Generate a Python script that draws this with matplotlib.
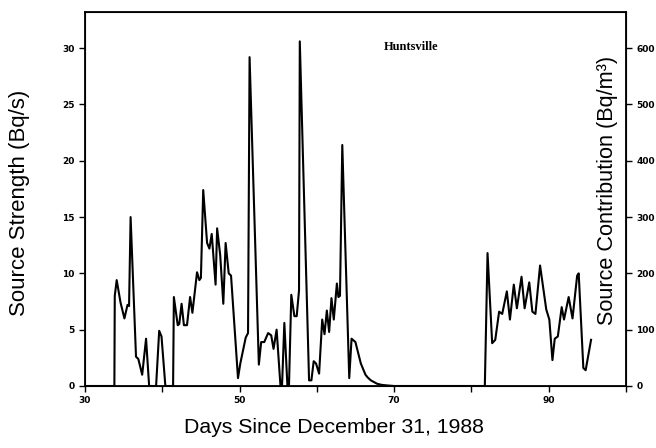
import matplotlib.pyplot as plt

# values
days = [30, 33.8, 33.85, 34.1, 34.6, 35.1, 35.5, 35.7, 35.9, 36.6, 36.9, 37.4, 37.9, 38.3,
        39.2, 39.6, 39.9, 40.4, 41.4, 41.5, 42.0, 42.2, 42.5, 42.8, 43.2, 43.6, 43.9,
        44.5, 44.8, 45.0, 45.3, 45.8, 46.1, 46.4, 46.9, 47.1, 47.5, 47.9, 48.2, 48.6,
        48.9, 49.8, 50.1, 50.8, 51.1, 51.3, 52.5, 52.8, 53.2, 53.7, 54.1, 54.4, 54.8,
        55.3, 55.5, 55.8, 56.2, 56.4, 56.7, 57.1, 57.4, 57.7, 57.8, 59.0, 59.3, 59.6,
        59.9, 60.3, 60.7, 61.0, 61.3, 61.6, 61.9, 62.2, 62.6, 62.8, 63.0, 63.3, 64.2,
        64.5, 65.0, 65.7, 66.3, 66.6, 67.0, 67.8, 68.4, 69.1, 70.0, 81.75, 82.1, 82.7,
        83.1, 83.6, 84.0, 84.6, 85.0, 85.5, 85.9, 86.5, 86.9, 87.5, 87.9, 88.3, 88.9,
        89.7, 90.1, 90.5, 90.8, 91.2, 91.7, 92.0, 92.6, 93.1, 93.7, 93.9, 94.5, 94.8,
        95.5]
strength = [0, 0, 8.0, 9.4, 7.4, 6.0, 7.2, 7.1, 15.0, 2.6, 2.4, 1.0, 4.2, 0,
            0, 4.9, 4.4, 0, 0, 7.9, 5.4, 5.5, 7.3, 5.4, 5.4, 7.9, 6.5,
            10.1, 9.4, 9.6, 17.4, 12.7, 12.2, 13.5, 9.0, 14.0, 11.6, 7.3, 12.7, 10.0,
            9.8, 0.7, 2.0, 4.3, 4.7, 29.2, 1.9, 3.9, 3.9, 4.7, 4.5, 3.3, 5.0,
            0, 0, 5.6, 0, 0, 8.1, 6.2, 6.2, 8.5, 30.6, 0.5, 0.5, 2.2,
            2.0, 1.1, 5.9, 4.6, 6.7, 4.8, 7.8, 5.9, 9.1, 7.9, 8.0, 21.4, 0.7,
            4.2, 3.9, 2.0, 1.0, 0.75, 0.5, 0.2, 0.1, 0.05, 0, 0, 11.8, 3.8,
            4.1, 6.6, 6.4, 8.4, 5.9, 9.0, 6.9, 9.7, 6.9, 9.2, 6.6, 6.4, 10.7,
            6.8, 5.9, 2.3, 4.2, 4.4, 7.0, 5.9, 7.9, 6.0, 9.8, 10.0, 1.6, 1.4,
            4.1]

x_ticks = [30, 40, 50, 60, 70, 80, 90, 100]
x_labels = ['30', '', '50', '', '70', '', '90', '']
left_ticks = [0, 5, 10, 15, 20, 25, 30]
right_ticks = [0, 100, 200, 300, 400, 500, 600]
scale = 20  # Bq/m3 per Bq/s on the right axis

W, H = 656, 448
fig = plt.figure(figsize=(6.56, 4.48), dpi=100)
ax = fig.add_axes([0.1296, 0.1384, 0.8244, 0.8346])
ax.plot(days, strength, color='black', linewidth=1.5)

ax.set_xlim(30, 100)
ax.set_ylim(0, 33.2)
ax.set_xticks(x_ticks)
ax.set_xticklabels(x_labels)
ax.set_yticks(left_ticks)
for lab in ax.get_xticklabels() + ax.get_yticklabels():
    lab.set_fontsize(6.5)
    lab.set_fontweight('bold')
ax.tick_params(direction='out', length=4, width=1)
for sp in ax.spines.values():
    sp.set_linewidth(1.3)

ax2 = ax.twinx()
ax2.set_ylim(0, 33.2 * scale)
ax2.set_yticks(right_ticks)
for lab in ax2.get_yticklabels():
    lab.set_fontsize(6.5)
    lab.set_fontweight('bold')
ax2.tick_params(direction='out', length=4, width=1)

# axis titles placed where the scan has them
fig.text(334 / W, 1 - 427 / H, 'Days Since December 31, 1988', fontsize=15.3,
         family='Liberation Sans', ha='center', va='center')
fig.text(20 / W, 1 - 203 / H, 'Source Strength (Bq/s)', rotation=90, fontsize=16,
         family='Liberation Sans', ha='center', va='center')
fig.text(607 / W, 1 - 190 / H, 'Source Contribution (Bq/m³)', rotation=90,
         fontsize=15.6, family='Liberation Sans', ha='center', va='center')
ax.text(72.2, 30.1, 'Huntsville', fontsize=9, family='Liberation Serif',
        fontweight='bold', ha='center', va='center')

fig.savefig('out.png', dpi=100)
